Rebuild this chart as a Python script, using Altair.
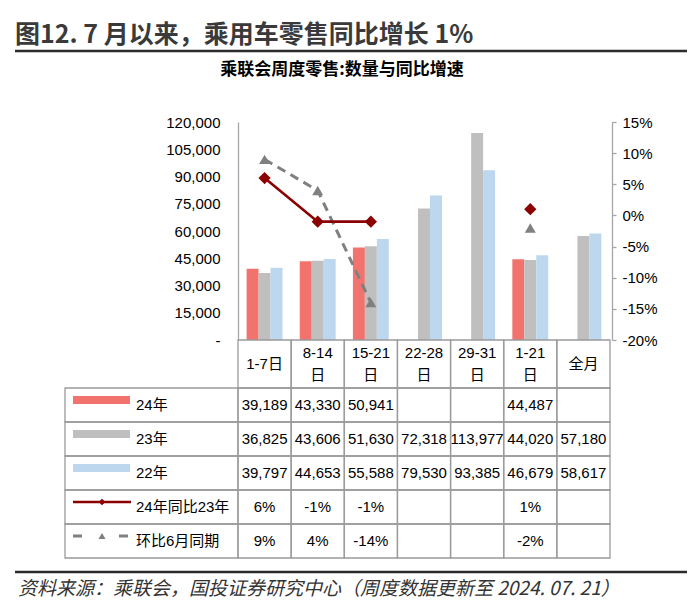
import altair as alt
import pandas as pd

# ---------------- data ----------------
cats = ["1-7日", "8-14日", "15-21日", "22-28日", "29-31日", "1-21日", "全月"]
header_labels = ["1-7日", "8-14\n日", "15-21\n日", "22-28\n日", "29-31\n日", "1-21\n日", "全月"]
bar_series = ["24年", "23年", "22年"]
sales_24 = [39189, 43330, 50941, None, None, 44487, None]
sales_23 = [36825, 43606, 51630, 72318, 113977, 44020, 57180]
sales_22 = [39797, 44653, 55588, 79530, 93385, 46679, 58617]
line_series = ["24年同比23年", "环比6月同期"]
yoy_24_23 = [0.06, -0.01, -0.01, None, None, 0.01, None]
vs_june = [0.09, 0.04, -0.14, None, None, -0.02, None]
weekly_cats = ["1-7日", "8-14日", "15-21日"]
left_ticks = [0, 15000, 30000, 45000, 60000, 75000, 90000, 105000, 120000]
right_ticks = [-0.20, -0.15, -0.10, -0.05, 0.0, 0.05, 0.10, 0.15]
row_labels = bar_series + line_series
title_text = "图12. 7 月以来，乘用车零售同比增长 1%"
subtitle_text = "乘联会周度零售:数量与同比增速"
source_text = "资料来源：乘联会，国投证券研究中心（周度数据更新至 2024. 07. 21）"

bar_colors = ["#F2736E", "#BFBFBF", "#BDD7EE"]
RED = "#8B0000"
GRAY = "#808080"
GRID = "#9B9B9B"
FONT = "Liberation Sans, 'Noto Sans CJK SC'"
CJK = "'Noto Sans CJK SC'"

# ---------------- tables ----------------
bar_rows = []
for s, vals in zip(bar_series, [sales_24, sales_23, sales_22]):
    for i, (c, v) in enumerate(zip(cats, vals)):
        if v is not None:
            bar_rows.append({"cat": c, "series": s, "value": v, "idx": i})
bars_df = pd.DataFrame(bar_rows)

pct_rows = []
for s, vals in zip(line_series, [yoy_24_23, vs_june]):
    for i, (c, v) in enumerate(zip(cats, vals)):
        if v is not None:
            pct_rows.append({"cat": c, "series": s, "pct": v, "idx": i,
                             "weekly": c in weekly_cats})
pct_df = pd.DataFrame(pct_rows)

hdr_df = pd.DataFrame({"cat": cats, "r": "hdr"})
hdr_text_rows = []
for c, lab in zip(cats, header_labels):
    parts = lab.split("\n")
    if len(parts) == 1:
        hdr_text_rows.append({"cat": c, "line": "single", "txt": parts[0]})
    else:
        hdr_text_rows.append({"cat": c, "line": "l1", "txt": parts[0]})
        hdr_text_rows.append({"cat": c, "line": "l2", "txt": parts[1]})
hdr_text_df = pd.DataFrame(hdr_text_rows)
cell_df = pd.DataFrame([{"cat": c, "row": r} for r in row_labels for c in cats])
leg_df = pd.DataFrame({"row": row_labels, "col": "legend", "sw": "sw", "lbl": "lbl"})
leg_line_df = pd.DataFrame([{"row": s, "pos": p, "o": k}
                            for s in line_series for k, p in enumerate(["a", "c"])])
leg_mark_df = pd.DataFrame({"row": line_series, "pos": "b"})

# ---------------- scales ----------------
X_MAIN = alt.Scale(domain=cats, range=[230, 602], paddingInner=0, paddingOuter=0)
Y_VAL = alt.Scale(domain=[0, 120000], range=[332, 114], nice=False, zero=True)
Y_PCT = alt.Scale(domain=[-0.2, 0.15], range=[332, 114], nice=False, zero=False)
Y_HDR = alt.Scale(domain=["hdr"], range=[332, 380], paddingInner=0, paddingOuter=0)
Y_HDR_TXT = alt.Scale(type="point", domain=["l1", "single", "l2"], range=[345, 367], padding=0)
Y_ROW = alt.Scale(domain=row_labels, range=[380, 550], paddingInner=0, paddingOuter=0)
Y_SYM = alt.Scale(domain=row_labels, range=[375, 545], paddingInner=0.76, paddingOuter=0.38)
X_LEG = alt.Scale(domain=["legend"], range=[57, 230], paddingInner=0, paddingOuter=0)
X_SW = alt.Scale(domain=["sw"], range=[65, 122], paddingInner=0, paddingOuter=0)
X_SYM = alt.Scale(type="point", domain=["a", "b", "c"], range=[65, 123], padding=0)
X_LBL = alt.Scale(type="point", domain=["lbl"], range=[128, 128], padding=0)

W, H = 684, 600
HYPHEN_PCT = "replace(format(datum.value, '.0%'), '\u2212', '-')"

bars = alt.Chart(bars_df).mark_bar().encode(
    x=alt.X("cat:N", scale=X_MAIN, axis=None),
    xOffset=alt.XOffset("series:N", scale=alt.Scale(domain=bar_series, paddingInner=0, paddingOuter=0.72)),
    y=alt.Y("value:Q", scale=Y_VAL, axis=alt.Axis(
        orient="left", offset=-230, values=left_ticks, ticks=False, grid=False,
        labelExpr="datum.value == 0 ? '-\u00a0\u00a0\u00a0\u00a0' : format(datum.value, ',')",
        labelFont=FONT, labelFontSize=15, labelColor="#000000", labelPadding=18,
        domainColor="#A6A6A6", domainWidth=1.3, title=None)),
    color=alt.Color("series:N", scale=alt.Scale(domain=bar_series, range=bar_colors), legend=None),
)

line24 = alt.Chart(pct_df).transform_filter(
    (alt.datum.series == line_series[0]) & alt.datum.weekly
).mark_line(color=RED, strokeWidth=2.6).encode(
    x=alt.X("cat:N", scale=X_MAIN, axis=None),
    y=alt.Y("pct:Q", scale=Y_PCT, axis=alt.Axis(
        orient="right", offset=-80, values=right_ticks, labelExpr=HYPHEN_PCT, grid=False,
        ticks=True, tickSize=4, tickColor="#A6A6A6", tickWidth=1.3,
        labelFont=FONT, labelFontSize=15, labelColor="#000000", labelPadding=6,
        domainColor="#A6A6A6", domainWidth=1.3, title=None)),
    order=alt.Order("idx:Q"),
)
pts24 = alt.Chart(pct_df).transform_filter(alt.datum.series == line_series[0]).mark_point(
    shape="diamond", filled=True, size=150, color=RED, opacity=1).encode(
    x=alt.X("cat:N", scale=X_MAIN, axis=None),
    y=alt.Y("pct:Q", scale=Y_PCT, axis=None),
)
line_jun = alt.Chart(pct_df).transform_filter(
    (alt.datum.series == line_series[1]) & alt.datum.weekly
).mark_line(color=GRAY, strokeWidth=3, strokeDash=[9, 6]).encode(
    x=alt.X("cat:N", scale=X_MAIN, axis=None),
    y=alt.Y("pct:Q", scale=Y_PCT, axis=None),
    order=alt.Order("idx:Q"),
)
pts_jun = alt.Chart(pct_df).transform_filter(alt.datum.series == line_series[1]).mark_point(
    shape="triangle-up", filled=True, size=120, color=GRAY, opacity=1).encode(
    x=alt.X("cat:N", scale=X_MAIN, axis=None),
    y=alt.Y("pct:Q", scale=Y_PCT, axis=None),
)

# ---------------- data table ----------------
hdr_cells = alt.Chart(hdr_df).mark_rect(filled=False, stroke=GRID, strokeWidth=1.3).encode(
    x=alt.X("cat:N", scale=X_MAIN, axis=None),
    y=alt.Y("r:N", scale=Y_HDR, axis=None),
)
hdr_text = alt.Chart(hdr_text_df).mark_text(
    font=FONT, fontSize=15, color="#000000", baseline="middle"
).encode(
    x=alt.X("cat:N", scale=X_MAIN, axis=None),
    y=alt.Y("line:N", scale=Y_HDR_TXT, axis=None),
    text="txt:N",
)
cells = alt.Chart(cell_df).mark_rect(filled=False, stroke=GRID, strokeWidth=1.3).encode(
    x=alt.X("cat:N", scale=X_MAIN, axis=None),
    y=alt.Y("row:N", scale=Y_ROW, axis=None),
)
leg_cells = alt.Chart(leg_df).mark_rect(filled=False, stroke=GRID, strokeWidth=1.3).encode(
    x=alt.X("col:N", scale=X_LEG, axis=None),
    y=alt.Y("row:N", scale=Y_ROW, axis=None),
)
val_text = alt.Chart(bars_df).mark_text(font=FONT, fontSize=15, color="#000000").encode(
    x=alt.X("cat:N", scale=X_MAIN, axis=None),
    y=alt.Y("series:N", scale=Y_ROW, axis=None),
    text=alt.Text("value:Q", format=","),
)
pct_text = alt.Chart(pct_df).transform_calculate(
    pct_label="replace(format(datum.pct, '.0%'), '\u2212', '-')"
).mark_text(font=FONT, fontSize=15, color="#000000").encode(
    x=alt.X("cat:N", scale=X_MAIN, axis=None),
    y=alt.Y("series:N", scale=Y_ROW, axis=None),
    text="pct_label:N",
)
leg_sw = alt.Chart(leg_df).transform_filter(
    alt.FieldOneOfPredicate(field="row", oneOf=bar_series)
).mark_rect().encode(
    x=alt.X("sw:N", scale=X_SW, axis=None),
    y=alt.Y("row:N", scale=Y_SYM, axis=None),
    color=alt.Color("row:N", scale=alt.Scale(domain=bar_series, range=bar_colors), legend=None),
)
leg_line24 = alt.Chart(leg_line_df).transform_filter(alt.datum.row == line_series[0]).mark_line(
    color=RED, strokeWidth=2.6).encode(
    x=alt.X("pos:N", scale=X_SYM, axis=None),
    y=alt.Y("row:N", scale=Y_SYM, axis=None),
    order=alt.Order("o:Q"),
)
leg_line_jun = alt.Chart(leg_line_df).transform_filter(alt.datum.row == line_series[1]).mark_line(
    color=GRAY, strokeWidth=3, strokeDash=[9, 37]).encode(
    x=alt.X("pos:N", scale=X_SYM, axis=None),
    y=alt.Y("row:N", scale=Y_SYM, axis=None),
    order=alt.Order("o:Q"),
)
leg_pt24 = alt.Chart(leg_mark_df).transform_filter(alt.datum.row == line_series[0]).mark_point(
    shape="diamond", filled=True, size=45, color=RED, opacity=1).encode(
    x=alt.X("pos:N", scale=X_SYM, axis=None),
    y=alt.Y("row:N", scale=Y_SYM, axis=None),
)
leg_pt_jun = alt.Chart(leg_mark_df).transform_filter(alt.datum.row == line_series[1]).mark_point(
    shape="triangle-up", filled=True, size=50, color=GRAY, opacity=1).encode(
    x=alt.X("pos:N", scale=X_SYM, axis=None),
    y=alt.Y("row:N", scale=Y_SYM, axis=None),
)
leg_text = alt.Chart(leg_df).mark_text(font=FONT, fontSize=15, color="#000000", align="left").encode(
    x=alt.X("lbl:N", scale=X_LBL, axis=None),
    y=alt.Y("row:N", scale=Y_ROW, axis=None),
    text="row:N",
)

# ---------------- titles & source ----------------
one = pd.DataFrame({"t": [title_text], "s": [subtitle_text], "f": [source_text]})
title = alt.Chart(one).mark_text(font=CJK, fontSize=25, fontWeight="bold", color="#3A3A3A",
                                 align="left", baseline="alphabetic").encode(
    text="t:N", x=alt.value(7), y=alt.value(35))
subtitle = alt.Chart(one).mark_text(font=CJK, fontSize=17, fontWeight="bold", color="#000000",
                                    align="center", baseline="middle").encode(
    text="s:N", x=alt.value(334), y=alt.value(62))
source = alt.Chart(one).mark_text(font=CJK, fontSize=19, fontStyle="italic", color="#333333",
                                  align="left", baseline="middle").encode(
    text="f:N", x=alt.value(10), y=alt.value(581))
rule_top = alt.Chart(one).mark_rule(color="#2B2B2B", strokeWidth=2.5).encode(
    x=alt.value(7), x2=alt.value(679), y=alt.value(43))
rule_bot = alt.Chart(one).mark_rule(color="#2B2B2B", strokeWidth=2.5).encode(
    x=alt.value(7), x2=alt.value(679), y=alt.value(564))

chart = alt.layer(
    bars, line_jun, line24, pts_jun, pts24,
    hdr_cells, cells, leg_cells, hdr_text, val_text, pct_text,
    leg_sw, leg_line24, leg_line_jun, leg_pt24, leg_pt_jun, leg_text,
    title, subtitle, source, rule_top, rule_bot,
).resolve_scale(
    x="independent", y="independent", color="independent"
).properties(
    width=W, height=H, padding=0, autosize=alt.AutoSizeParams(type="none"),
    background="white",
).configure_view(strokeWidth=0)

chart.save("out.html", embed_options={"renderer": "svg", "actions": False})
